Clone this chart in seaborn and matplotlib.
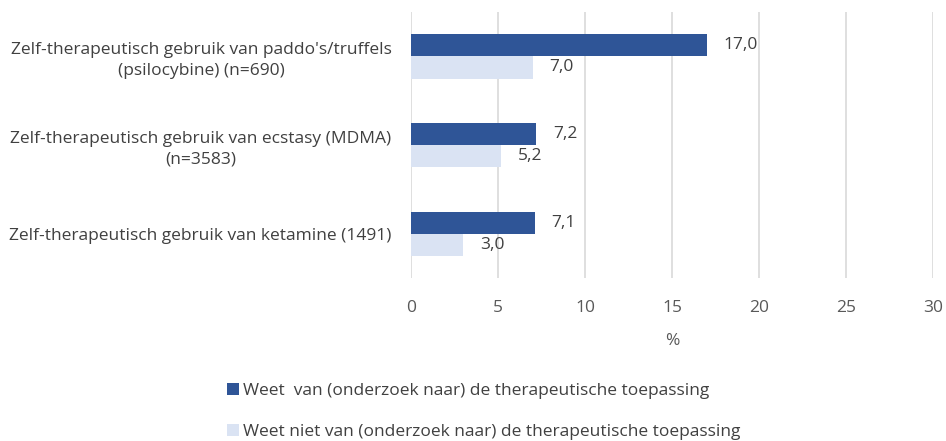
import matplotlib
matplotlib.use("Agg")
import matplotlib.pyplot as plt
import seaborn as sns
import pandas as pd
from matplotlib.patches import Patch

categories = [
    "Zelf-therapeutisch gebruik van paddo's/truffels\n(psilocybine) (n=690)",
    "Zelf-therapeutisch gebruik van ecstasy (MDMA)\n(n=3583)",
    "Zelf-therapeutisch gebruik van ketamine (1491)",
]
series_names = [
    "Weet  van (onderzoek naar) de therapeutische toepassing",
    "Weet niet van (onderzoek naar) de therapeutische toepassing",
]
weet = [17.0, 7.2, 7.1]
weet_niet = [7.0, 5.2, 3.0]
x_ticks = [0, 5, 10, 15, 20, 25, 30]

colors = ["#2F5597", "#DAE3F3"]
text_color = "#404040"
fs = 12.5

sns.set_theme(style="white")
plt.rcParams["font.family"] = ["Open Sans", "DejaVu Sans"]

df = pd.DataFrame({
    "categorie": categories * 2,
    "groep": [series_names[0]] * 3 + [series_names[1]] * 3,
    "waarde": weet + weet_niet,
})

fig = plt.figure(figsize=(9.46, 4.41), dpi=100)
ax = fig.add_axes([411 / 946, 1 - 278 / 441, (933 - 411) / 946, 266 / 441])

sns.barplot(data=df, y="categorie", x="waarde", hue="groep", orient="h",
            palette=colors, width=0.5, saturation=1, linewidth=0, ax=ax, legend=False)

for container in ax.containers:
    ax.bar_label(container, labels=[f"{v:.1f}".replace(".", ",") for v in container.datavalues],
                 padding=12, fontsize=fs, color=text_color)

ax.set_xlim(0, 30)
ax.set_ylim(2.5, -0.5)
ax.set_xticks(x_ticks)
ax.set_xticklabels([str(t) for t in x_ticks], fontsize=fs, color="#595959")
ax.tick_params(axis="x", length=0, pad=16)
ax.tick_params(axis="y", length=0, pad=14)
for lbl in ax.get_yticklabels():
    lbl.set_fontsize(fs)
    lbl.set_color(text_color)
    lbl.set_multialignment("center")
    lbl.set_linespacing(1.35)
ax.set_ylabel("")
ax.set_xlabel("%", fontsize=fs, color="#595959", labelpad=12)
ax.grid(axis="x", color="#D9D9D9", linewidth=1.2)
ax.set_axisbelow(True)
for s in ax.spines.values():
    s.set_visible(False)

handles = [Patch(facecolor=c, edgecolor="none") for c in colors]
fig.legend(handles, series_names, loc="upper left", bbox_to_anchor=(220 / 946, 1 - 376 / 441),
           frameon=False, fontsize=fs, labelcolor=text_color, handlelength=0.7, handleheight=0.7,
           handletextpad=0.2, labelspacing=1.45, borderaxespad=0)

fig.savefig("out.png", dpi=100)
